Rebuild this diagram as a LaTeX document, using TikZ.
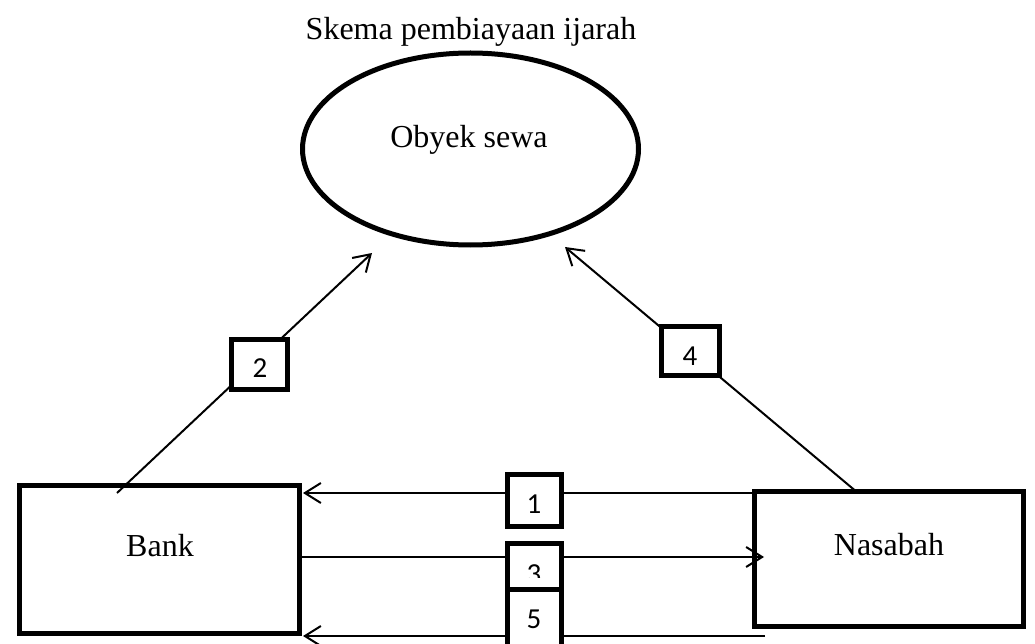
\documentclass[tikz,border=0pt]{standalone}
\usepackage{fontspec}
\setmainfont{Liberation Serif}
\newfontfamily\numfont{Carlito}
\usetikzlibrary{arrows.meta,shapes.geometric}
\begin{document}
\begin{tikzpicture}[x=1pt,y=-1pt,
  bigbox/.style={draw, line width=5pt, inner sep=0pt, fill=white},
  numbox/.style={draw, line width=5pt, fill=white, inner sep=0pt},
  lbl/.style={font=\fontsize{32}{36}\selectfont, anchor=base, inner sep=0pt},
  numlbl/.style={font=\numfont\fontsize{29}{32}\selectfont, anchor=base, inner sep=0pt},
  conn/.style={line width=2pt, -{Straight Barb[length=16pt,width=20pt]}}]
\useasboundingbox (0,0) rectangle (1035,644);
% title and object
\node[lbl] (title) at (471,40) {Skema pembiayaan ijarah};
\node[draw, ellipse, line width=5pt, minimum width=336pt, minimum height=192pt, inner sep=0pt] (obj) at (470.5,149) {};
\node[lbl] (objt) at (469,148) {Obyek sewa};
% parties
\node[bigbox, minimum width=280.5pt, minimum height=148.5pt] (bank) at (159.5,559.5) {};
\node[lbl] (bankt) at (160,556) {Bank};
\node[bigbox, minimum width=269.5pt, minimum height=135.5pt] (nas) at (889,559) {};
\node[lbl] (nast) at (889,555) {Nasabah};
% connector ends
\coordinate (n1) at (765,493); \coordinate (b1) at (303,493);
\coordinate (b3) at (302,557); \coordinate (n3) at (764,557);
\coordinate (n5) at (765,636); \coordinate (b5) at (303,636);
\coordinate (b2) at (117,493); \coordinate (o2) at (372,253);
\coordinate (n4) at (858,493); \coordinate (o4) at (565,247);
% connectors
\draw[conn] (n1) -- (b1);
\draw[conn] (b3) -- (n3);
\draw[conn] (n5) -- (b5);
\draw[conn] (b2) -- (o2);
\draw[conn] (n4) -- (o4);
% step boxes
\node[numbox, minimum width=56.7pt, minimum height=50.7pt] (k2) at (259.5,364.5) {};
\node[numlbl] (k2t) at (260,377) {2};
\node[numbox, minimum width=58.7pt, minimum height=49.7pt] (k4) at (690.5,351) {};
\node[numlbl] (k4t) at (690,365) {4};
\node[numbox, minimum width=54pt, minimum height=52pt] (k1) at (534,500) {};
\node[numlbl] (k1t) at (534,513) {1};
\node[numbox, minimum width=54pt, minimum height=52pt] (k3) at (534,569) {};
\node[numlbl] (k3t) at (534,583) {3};
\fill[white] (510,578) rectangle (558,589);
\node[numbox, minimum width=54pt, minimum height=61pt] (k5) at (534,619.5) {};
\node[numlbl] (k5t) at (534,628) {5};
\end{tikzpicture}
\end{document}
